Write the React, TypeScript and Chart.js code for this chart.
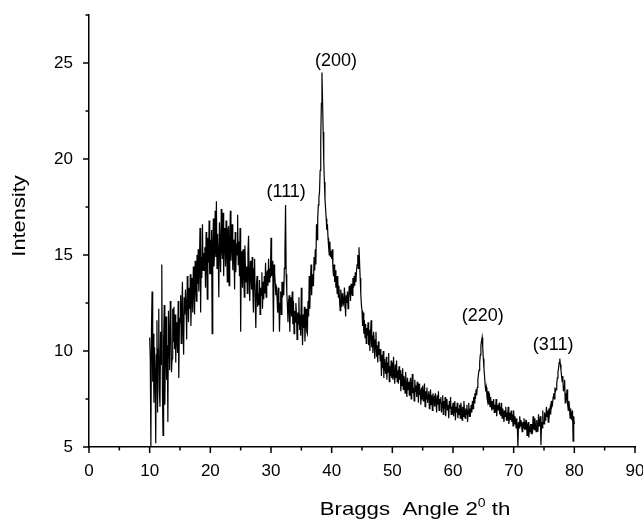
import { useEffect, useRef } from "react";
import { Chart, registerables } from "chart.js";

Chart.register(...registerables);

// Sampling grid of the scan (degrees 2θ)
const START_ANGLE = 10;
const ANGLE_STEP = 0.1;

// Intensity, one row per degree (x.0 ... x.9)
const intensity: number[] = [
  10.7, 9.6, 5.0, 11.2, 13.1, 8.4, 10.9, 7.3, 10.2, 8.8, // 10
  5.2, 9.8, 11.6, 6.8, 10.1, 12.2, 7.9, 7.1, 11.0, 9.3, // 11
  14.5, 8.0, 5.6, 10.6, 12.4, 7.2, 9.9, 11.8, 8.5, 10.3, // 12
  6.3, 12.1, 10.8, 9.0, 12.6, 11.4, 8.9, 9.6, 12.2, 10.5, // 13
  12.3, 10.1, 11.9, 9.4, 11.5, 10.7, 9.9, 12.6, 8.6, 11.3, // 14
  11.7, 12.9, 10.4, 12.2, 13.6, 11.0, 9.8, 12.8, 11.9, 13.2, // 15
  12.4, 10.6, 13.9, 12.7, 11.5, 13.3, 12.2, 14.0, 11.3, 12.9, // 16
  13.8, 12.0, 14.4, 13.1, 11.9, 14.7, 13.4, 12.6, 15.0, 13.5, // 17
  15.3, 13.1, 14.6, 16.4, 12.0, 14.9, 13.8, 16.6, 14.2, 15.1, // 18
  14.2, 15.4, 13.3, 16.2, 14.8, 12.7, 15.9, 14.6, 16.8, 14.0, // 19
  15.8, 14.0, 16.3, 10.9, 15.5, 16.9, 14.4, 15.2, 17.3, 14.9, // 20
  17.8, 14.3, 16.1, 15.0, 12.8, 16.7, 15.6, 14.1, 17.4, 15.3, // 21
  14.8, 17.2, 13.9, 16.4, 15.9, 14.4, 16.8, 15.1, 13.6, 16.3, // 22
  16.5, 13.4, 15.7, 17.3, 14.7, 15.4, 16.6, 14.2, 15.8, 14.9, // 23
  13.2, 16.2, 14.1, 15.6, 15.0, 17.1, 14.5, 15.7, 13.9, 16.4, // 24
  11.0, 14.6, 15.2, 13.3, 15.3, 14.0, 12.8, 15.5, 14.2, 13.6, // 25
  14.4, 13.0, 15.1, 16.0, 13.8, 12.6, 14.7, 14.1, 13.2, 14.9, // 26
  13.2, 12.0, 14.3, 14.8, 12.5, 11.2, 13.4, 13.9, 12.3, 13.0, // 27
  12.4, 13.7, 11.9, 13.3, 12.9, 14.1, 12.2, 13.6, 12.7, 13.9, // 28
  13.0, 14.6, 12.8, 14.0, 14.2, 13.4, 14.8, 13.6, 14.3, 13.8, // 29
  15.9, 13.9, 14.7, 14.2, 11.0, 14.5, 14.1, 13.5, 12.9, 13.4, // 30
  12.7, 12.0, 13.3, 12.4, 11.0, 12.5, 13.1, 11.9, 13.6, 12.8, // 31
  13.6, 12.9, 14.3, 15.2, 17.6, 14.0, 13.1, 12.4, 11.5, 12.6, // 32
  12.9, 11.0, 12.3, 12.8, 11.8, 13.1, 11.4, 12.6, 10.9, 12.1, // 33
  11.5, 12.5, 11.9, 10.6, 12.0, 11.4, 12.8, 11.1, 11.9, 10.8, // 34
  13.3, 11.6, 10.3, 11.9, 11.2, 12.3, 10.5, 11.7, 12.2, 11.0, // 35
  10.9, 12.6, 11.8, 13.9, 12.2, 13.6, 14.5, 12.9, 14.0, 13.4, // 36
  13.4, 14.9, 14.2, 15.3, 14.5, 16.6, 15.8, 16.9, 17.6, 18.0, // 37
  18.3, 19.4, 21.0, 22.9, 24.5, 23.0, 21.4, 19.8, 18.8, 17.9, // 38
  17.4, 16.9, 16.3, 16.6, 15.9, 15.4, 15.0, 15.7, 14.9, 15.2, // 39
  14.8, 15.3, 14.4, 13.9, 14.5, 13.6, 14.2, 13.3, 13.9, 13.0, // 40
  13.9, 12.8, 13.4, 12.6, 12.1, 13.2, 12.9, 12.3, 13.0, 12.5, // 41
  12.4, 13.3, 12.7, 11.8, 12.9, 12.5, 13.1, 12.2, 12.8, 13.4, // 42
  13.1, 12.6, 13.5, 13.0, 12.9, 13.8, 13.3, 13.9, 13.4, 14.1, // 43
  13.6, 14.2, 14.5, 15.0, 14.3, 15.4, 14.6, 13.8, 13.0, 12.4, // 44
  12.1, 11.3, 12.0, 10.9, 11.6, 10.7, 11.4, 10.4, 11.2, 10.8, // 45
  11.5, 10.3, 11.1, 10.0, 10.9, 11.6, 10.2, 10.8, 9.9, 11.0, // 46
  10.6, 9.6, 10.4, 11.0, 9.7, 10.3, 9.4, 10.5, 9.8, 10.1, // 47
  9.5, 10.1, 8.7, 9.8, 9.1, 10.0, 8.6, 9.6, 9.2, 8.8, // 48
  9.7, 8.5, 9.4, 8.9, 9.9, 8.4, 9.2, 8.7, 9.5, 8.6, // 49
  9.4, 8.5, 9.7, 8.8, 8.3, 9.3, 8.6, 9.5, 8.4, 9.0, // 50
  8.3, 9.2, 8.5, 9.0, 7.9, 8.8, 8.2, 9.1, 8.0, 8.7, // 51
  8.5, 7.8, 8.9, 8.1, 7.6, 8.6, 8.0, 8.4, 7.7, 8.3, // 52
  8.6, 7.5, 8.2, 8.8, 7.8, 8.1, 7.4, 8.5, 7.9, 8.2, // 53
  7.6, 8.4, 7.9, 7.3, 8.3, 7.7, 8.0, 7.2, 8.1, 7.5, // 54
  8.2, 7.4, 7.8, 8.3, 7.1, 7.9, 7.5, 8.1, 7.3, 7.7, // 55
  7.9, 7.0, 7.6, 8.0, 7.2, 7.7, 6.9, 7.8, 7.3, 7.5, // 56
  7.1, 7.8, 7.4, 6.8, 7.7, 7.2, 7.9, 6.9, 7.5, 7.3, // 57
  7.6, 6.8, 7.3, 7.7, 6.7, 7.4, 7.0, 7.6, 6.6, 7.2, // 58
  7.5, 6.9, 7.2, 6.5, 7.4, 7.0, 7.6, 6.7, 7.1, 6.9, // 59
  7.3, 6.6, 7.0, 7.4, 6.4, 7.1, 6.8, 7.3, 6.5, 7.0, // 60
  6.7, 7.2, 6.5, 7.3, 6.9, 6.4, 7.1, 6.6, 7.4, 6.8, // 61
  6.5, 7.0, 6.7, 7.2, 6.3, 6.9, 7.3, 6.6, 7.0, 6.8, // 62
  7.2, 6.8, 7.4, 7.0, 7.6, 7.3, 7.8, 7.5, 8.0, 7.7, // 63
  8.1, 8.5, 8.8, 9.0, 9.4, 9.8, 10.3, 10.5, 10.7, 10.2, // 64
  9.6, 9.1, 8.7, 8.2, 7.9, 8.1, 7.6, 7.4, 7.9, 7.2, // 65
  7.8, 7.1, 7.6, 7.3, 6.9, 7.4, 7.0, 7.5, 6.8, 7.2, // 66
  6.8, 7.5, 6.6, 7.0, 7.2, 6.9, 7.3, 6.7, 7.1, 6.6, // 67
  7.3, 6.5, 7.0, 6.8, 6.3, 6.9, 6.6, 7.1, 6.4, 6.8, // 68
  6.6, 7.1, 6.2, 6.5, 6.8, 6.4, 6.9, 6.3, 6.7, 6.1, // 69
  6.9, 6.2, 6.6, 6.4, 6.0, 6.5, 6.1, 5.0, 6.3, 6.0, // 70
  6.6, 6.1, 6.4, 6.2, 5.8, 6.3, 6.0, 6.5, 5.9, 6.2, // 71
  5.9, 6.4, 5.6, 6.1, 6.3, 5.5, 6.0, 5.8, 6.2, 5.7, // 72
  6.2, 5.7, 6.6, 6.0, 5.9, 6.5, 6.1, 5.8, 6.4, 6.0, // 73
  5.8, 6.7, 6.1, 6.3, 6.6, 5.1, 6.3, 6.0, 6.9, 6.2, // 74
  6.2, 6.8, 6.4, 6.5, 7.1, 6.6, 6.9, 6.3, 7.0, 6.7, // 75
  7.0, 6.7, 7.4, 7.1, 7.2, 7.6, 7.8, 7.5, 8.1, 7.9, // 76
  8.0, 8.3, 8.6, 8.9, 9.1, 9.4, 9.6, 9.3, 9.0, 8.7, // 77
  8.4, 8.7, 7.9, 8.2, 8.5, 7.3, 7.8, 7.6, 8.0, 7.2, // 78
  6.9, 7.4, 7.1, 6.5, 7.0, 6.7, 6.4, 6.9, 5.3, 6.6, // 79
  6.2, // 80
];

// Axis ticks
const xMajorTicks = [0, 10, 20, 30, 40, 50, 60, 70, 80, 90];
const xMinorTicks = [5, 15, 25, 35, 45, 55, 65, 75, 85];
const yMajorTicks = [5, 10, 15, 20, 25];
const yMinorTicks = [7.5, 12.5, 17.5, 22.5, 27.5];

// Peak labels (Miller indices) and where they sit, in data coordinates
const peakLabels = ["(111)", "(200)", "(220)", "(311)"];
const peakLabelAngles = [32.5, 40.7, 64.9, 76.5];
const peakLabelIntensities = [18.3, 25.1, 11.8, 10.3];

const xTitleMain = "Braggs  Angle 2";
const xTitleSup = "0";
const xTitleEnd = " th";
const yTitle = "Intensity";

const FONT = "'Liberation Sans', Arial, Helvetica, sans-serif";

function drawStretched(
  ctx: CanvasRenderingContext2D,
  parts: { text: string; size: number; dy: number }[],
  cx: number,
  cy: number,
  sx: number
) {
  let total = 0;
  const widths = parts.map((p) => {
    ctx.font = `${p.size}px ${FONT}`;
    const w = ctx.measureText(p.text).width;
    total += w;
    return w;
  });
  ctx.save();
  ctx.translate(cx, cy);
  ctx.scale(sx, 1);
  let x = -total / 2;
  ctx.textBaseline = "middle";
  ctx.textAlign = "left";
  parts.forEach((p, i) => {
    ctx.font = `${p.size}px ${FONT}`;
    ctx.fillText(p.text, x, p.dy);
    x += widths[i];
  });
  ctx.restore();
}

const decorPlugin = {
  id: "decor",
  afterDraw(chart: any) {
    const ctx: CanvasRenderingContext2D = chart.ctx;
    const xs = chart.scales.x;
    const ys = chart.scales.y;
    const area = chart.chartArea;
    ctx.save();
    ctx.strokeStyle = "#000";
    ctx.fillStyle = "#000";
    ctx.lineWidth = 1.5;
    ctx.beginPath();
    xMajorTicks.forEach((v) => {
      const p = xs.getPixelForValue(v);
      ctx.moveTo(p, area.bottom);
      ctx.lineTo(p, area.bottom + 6);
    });
    xMinorTicks.forEach((v) => {
      const p = xs.getPixelForValue(v);
      ctx.moveTo(p, area.bottom);
      ctx.lineTo(p, area.bottom + 3.5);
    });
    yMajorTicks.forEach((v) => {
      const p = ys.getPixelForValue(v);
      ctx.moveTo(area.left, p);
      ctx.lineTo(area.left - 6, p);
    });
    yMinorTicks.forEach((v) => {
      const p = ys.getPixelForValue(v);
      ctx.moveTo(area.left, p);
      ctx.lineTo(area.left - 3.5, p);
    });
    ctx.stroke();

    // Peak labels
    ctx.font = `18px ${FONT}`;
    ctx.textAlign = "center";
    ctx.textBaseline = "middle";
    peakLabels.forEach((t, i) => {
      ctx.fillText(
        t,
        xs.getPixelForValue(peakLabelAngles[i]),
        ys.getPixelForValue(peakLabelIntensities[i])
      );
    });

    // X title with superscript
    drawStretched(
      ctx,
      [
        { text: xTitleMain, size: 19, dy: 0 },
        { text: xTitleSup, size: 12, dy: -6 },
        { text: xTitleEnd, size: 19, dy: 0 },
      ],
      415,
      510,
      1.17
    );

    // Y title rotated
    ctx.save();
    ctx.translate(20, 216);
    ctx.rotate(-Math.PI / 2);
    drawStretched(ctx, [{ text: yTitle, size: 19, dy: 0 }], 0, 0, 1.15);
    ctx.restore();

    ctx.restore();
  },
};

export default function App() {
  const canvasRef = useRef<HTMLCanvasElement | null>(null);

  useEffect(() => {
    if (!canvasRef.current) return;
    const points = intensity.map((v, i) => ({
      x: START_ANGLE + i * ANGLE_STEP,
      y: v,
    }));
    const chart = new Chart(canvasRef.current, {
      type: "line",
      data: {
        datasets: [
          {
            data: points,
            borderColor: "#000",
            borderWidth: 1.2,
            pointRadius: 0,
            tension: 0,
            fill: false,
          },
        ],
      },
      options: {
        animation: false,
        responsive: false,
        devicePixelRatio: 1,
        layout: { padding: { top: 15, right: 8, left: 0, bottom: 0 } },
        plugins: {
          legend: { display: false },
          tooltip: { enabled: false },
        },
        scales: {
          x: {
            type: "linear",
            min: 0,
            max: 90,
            grid: { display: false, drawTicks: true, tickLength: 6 },
            border: { display: true, color: "#000", width: 1.5 },
            ticks: {
              stepSize: 10,
              padding: 8,
              color: "#000",
              maxRotation: 0,
              autoSkip: false,
              font: { family: FONT, size: 17 },
            },
            afterFit: (s: any) => {
              s.height = 75;
              s.paddingLeft = 0;
              s.paddingRight = 0;
            },
          },
          y: {
            type: "linear",
            min: 5,
            max: 27.5,
            grid: { display: false, drawTicks: true, tickLength: 6 },
            border: { display: true, color: "#000", width: 1.5 },
            ticks: {
              stepSize: 5,
              padding: 10,
              color: "#000",
              font: { family: FONT, size: 17 },
              callback: (v: any) => (Number(v) % 5 === 0 ? String(v) : ""),
            },
            afterFit: (s: any) => {
              s.width = 89;
              s.paddingTop = 0;
              s.paddingBottom = 0;
            },
          },
        },
      },
      plugins: [decorPlugin],
    });
    return () => chart.destroy();
  }, []);

  return (
    <canvas
      ref={canvasRef}
      width={643}
      height={522}
      style={{ position: "absolute", left: 0, top: 0, display: "block" }}
    />
  );
}
